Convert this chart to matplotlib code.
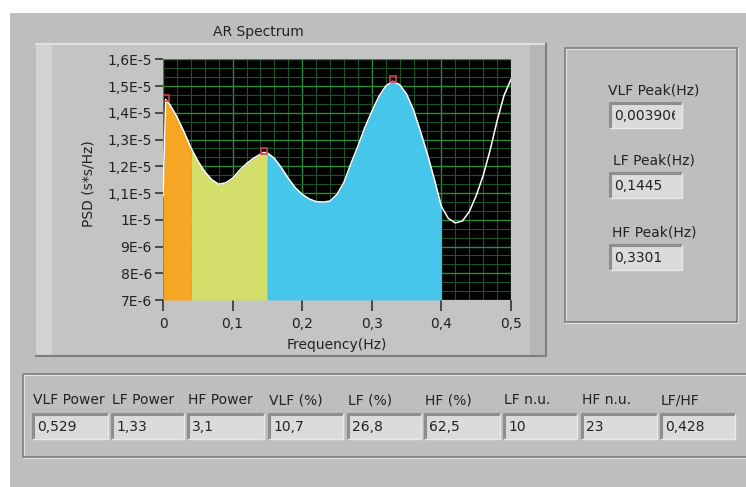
# -*- coding: utf-8 -*-
"""AR spectrum panel (LabVIEW-style HRV front panel)."""

import matplotlib
matplotlib.use("Agg")
import matplotlib.pyplot as plt
from matplotlib.patches import Rectangle
from matplotlib.ticker import MultipleLocator, FuncFormatter
import numpy as np

# ── data ──
freq = [0.000, 0.0039, 0.010, 0.020, 0.030, 0.040, 0.050, 0.060, 0.070, 0.080,
        0.090, 0.100, 0.110, 0.120, 0.130, 0.1445, 0.150, 0.160, 0.170, 0.180,
        0.190, 0.200, 0.210, 0.220, 0.230, 0.240, 0.250, 0.260, 0.270, 0.280,
        0.290, 0.300, 0.310, 0.320, 0.3301, 0.340, 0.350, 0.360, 0.370, 0.380,
        0.390, 0.400, 0.410, 0.420, 0.430, 0.440, 0.450, 0.460, 0.470, 0.480,
        0.490, 0.500]
psd_e6 = [10.9, 14.50, 14.30, 13.85, 13.30, 12.70, 12.20, 11.80, 11.50, 11.33,
          11.38, 11.55, 11.85, 12.10, 12.30, 12.52, 12.50, 12.30, 11.95, 11.55,
          11.20, 10.95, 10.78, 10.68, 10.66, 10.70, 10.95, 11.40, 12.10, 12.75,
          13.45, 14.05, 14.60, 15.00, 15.18, 15.05, 14.70, 14.10, 13.30, 12.45,
          11.50, 10.50, 10.05, 9.88, 9.95, 10.30, 10.90, 11.65, 12.60, 13.70,
          14.65, 15.25]
bands = [(0.0, 0.04, "#F6A622"), (0.04, 0.15, "#D3DE6B"), (0.15, 0.40, "#47C6EB")]
peak_f = [0.0039, 0.1445, 0.3301]
peak_p = [14.55, 12.57, 15.25]

peak_labels = ["VLF Peak(Hz)", "LF Peak(Hz)", "HF Peak(Hz)"]
peak_values = ["0,003906", "0,1445", "0,3301"]

stat_labels = ["VLF Power", "LF Power", "HF Power", "VLF (%)", "LF (%)",
               "HF (%)", "LF n.u.", "HF n.u.", "LF/HF"]
stat_values = ["0,529", "1,33", "3,1", "10,7", "26,8", "62,5", "10", "23", "0,428"]

W, H = 746, 487
GRAY = "#BEBEBE"
FS = 10
plt.rcParams["font.family"] = "DejaVu Sans"

fig = plt.figure(figsize=(W / 100, H / 100), dpi=100, facecolor="white")
bg = fig.add_axes([0, 0, 1, 1])
bg.set_xlim(0, W); bg.set_ylim(H, 0); bg.axis("off")


def rect(x0, y0, x1, y1, **kw):
    bg.add_patch(Rectangle((x0, y0), x1 - x0, y1 - y0, **kw))


def engraved(x0, y0, x1, y1):
    rect(x0 + 1, y0 + 1, x1 + 1, y1 + 1, fill=False, ec="#ECECEC", lw=1.2)
    rect(x0, y0, x1, y1, fill=False, ec="#7C7C7C", lw=1.2)


def value_box(x0, y0, x1, y1, txt):
    rect(x0, y0, x1, y1, fc="#DBDBDB", ec="none")
    bg.plot([x0, x0, x1], [y1, y0, y0], color="#8E8E8E", lw=2.2, solid_capstyle="butt")
    bg.plot([x0, x1, x1], [y1, y1, y0], color="#E8E8E8", lw=1.0)
    clip = Rectangle((x0, y0), x1 - x0 - 7, y1 - y0, transform=bg.transData)
    t = bg.text(x0 + 4, (y0 + y1) / 2 + 0.5, txt, fontsize=FS, color="#222222",
                ha="left", va="center")
    t.set_clip_on(True)
    t.set_clip_path(clip)


# panel background
rect(10, 13, W, H, fc=GRAY, ec="none")

# ── graph frame (raised) ──
rect(36, 44, 546, 356, fc="#C4C4C4", ec="none")
rect(36, 44, 52, 356, fc="#D2D2D2", ec="none")
rect(530, 44, 546, 356, fc="#B6B6B6", ec="none")
bg.plot([36, 546], [44, 44], color="#E0E0E0", lw=1.5)
bg.plot([546, 546, 36], [44, 356, 356], color="#7E7E7E", lw=1.5)
bg.text(258, 32, "AR Spectrum", fontsize=FS, ha="center", va="center", color="#222222")

# ── right panel: peaks ──
engraved(565, 48, 737, 322)
box_tops = [103, 173, 245]
for lab, val, yt in zip(peak_labels, peak_values, box_tops):
    bg.text(654, yt - 13, lab, fontsize=FS, ha="center", va="center", color="#222222")
    value_box(610, yt, 682, yt + 25, val)

# ── bottom panel: band powers ──
engraved(23, 374, W + 5, 457)
box_x = [(33, 108), (112, 184), (188, 264), (269, 343), (348, 421),
         (425, 500), (504, 577), (582, 657), (661, 735)]
for lab, val, (x0, x1) in zip(stat_labels, stat_values, box_x):
    bg.text(x0, 400, lab, fontsize=FS, ha="left", va="center", color="#222222")
    value_box(x0, 414, x1, 439, val)

# ── spectrum plot ──
ax = fig.add_axes([163 / W, 1 - 300 / H, (511 - 163) / W, (300 - 59.3) / H])
ax.set_facecolor("black")
f = np.array(freq)
p = np.array(psd_e6) * 1e-6
for lo, hi, col in bands:
    m = (f >= lo) & (f <= hi)
    ax.fill_between(f[m], 7e-6, p[m], color=col, lw=0, zorder=2)
ax.plot(f, p, color="white", lw=1.1, zorder=3)
ax.plot(peak_f, np.array(peak_p) * 1e-6, ls="none", marker="s", ms=5,
        mfc="none", mec="#D0404A", mew=1.2, zorder=4)

ax.set_xlim(0, 0.5); ax.set_ylim(7e-6, 1.6e-5)
ax.xaxis.set_major_locator(MultipleLocator(0.1))
ax.xaxis.set_minor_locator(MultipleLocator(0.02))
ax.yaxis.set_major_locator(MultipleLocator(1e-6))
ax.yaxis.set_minor_locator(MultipleLocator(1e-6 / 3))
ax.grid(True, which="major", color="#2C8C3C", lw=1.0, zorder=1)
ax.grid(True, which="minor", color="#1C5426", lw=0.8, zorder=1)
ax.set_axisbelow(True)


def yfmt(v, _):
    k = int(round(v / 1e-7))
    if k % 10 == 0 and k >= 100:
        return "1E-5" if k == 100 else f"1,{(k - 100) // 10}E-5"
    return f"{k // 10}E-6"


def xfmt(v, _):
    return "0" if abs(v) < 1e-9 else f"{v:.1f}".replace(".", ",")


ax.yaxis.set_major_formatter(FuncFormatter(yfmt))
ax.xaxis.set_major_formatter(FuncFormatter(xfmt))
ax.tick_params(which="major", direction="out", length=6, width=1.2, color="#333333",
               labelsize=FS, labelcolor="#222222", pad=2)
ax.tick_params(axis="x", which="major", length=8, pad=4)
ax.tick_params(which="minor", length=0)
for s in ax.spines.values():
    s.set_visible(False)

bg.text(89, 184, "PSD (s*s/Hz)", fontsize=FS, rotation=90, ha="center",
        va="center", color="#222222")
bg.text(337, 345, "Frequency(Hz)", fontsize=FS, ha="center", va="center", color="#222222")

fig.savefig("out.png", dpi=100, facecolor="white")
plt.close(fig)
